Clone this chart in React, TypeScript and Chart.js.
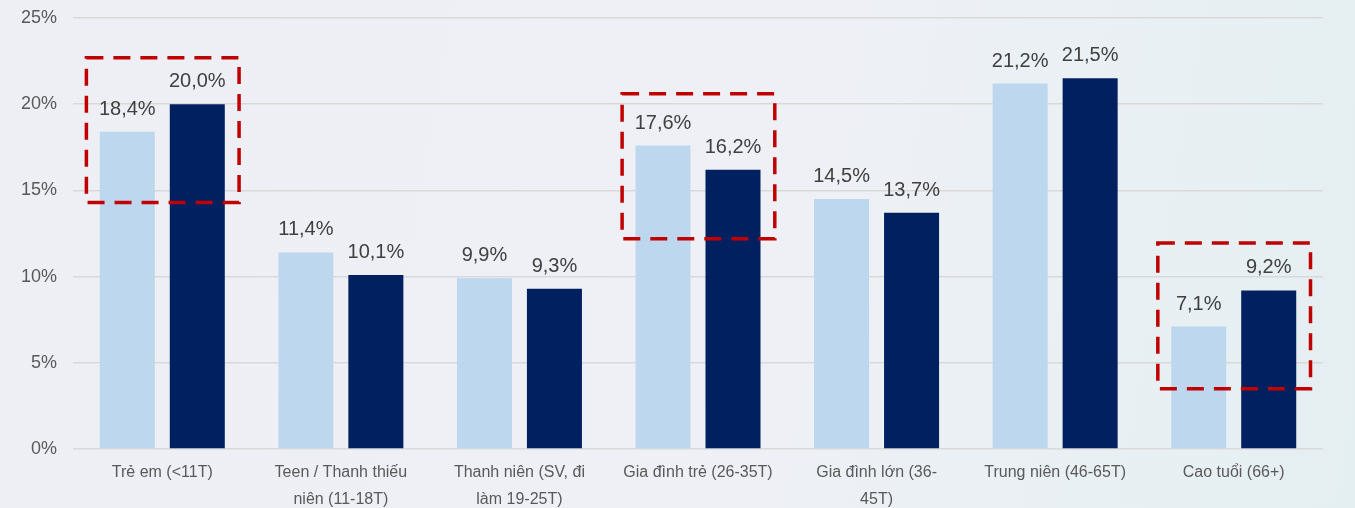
import React, { useEffect, useRef } from "react";
import { Chart, registerables } from "chart.js";

Chart.register(...registerables);

const categories: string[][] = [
  ["Trẻ em (<11T)"],
  ["Teen / Thanh thiếu", "niên (11-18T)"],
  ["Thanh niên (SV, đi", "làm 19-25T)"],
  ["Gia đình trẻ (26-35T)"],
  ["Gia đình lớn (36-", "45T)"],
  ["Trung niên (46-65T)"],
  ["Cao tuổi (66+)"],
];
const seriesA: number[] = [18.4, 11.4, 9.9, 17.6, 14.5, 21.2, 7.1];
const seriesB: number[] = [20.0, 10.1, 9.3, 16.2, 13.7, 21.5, 9.2];
const yTicks: number[] = [0, 5, 10, 15, 20, 25];

// highlight boxes: category index, top and bottom in % units
const highlightCats: number[] = [0, 3, 6];
const highlightTop: number[] = [22.7, 20.6, 11.95];
const highlightBottom: number[] = [14.3, 12.2, 3.5];

const FONT = "'Liberation Sans', Arial, sans-serif";

const fmt = (v: number) => v.toFixed(1).replace(".", ",") + "%";

const labelPlugin = {
  id: "valueLabels",
  afterDatasetsDraw(chart: any) {
    const ctx = chart.ctx;
    ctx.save();
    ctx.font = `20px ${FONT}`;
    ctx.fillStyle = "#404040";
    ctx.textAlign = "center";
    ctx.textBaseline = "alphabetic";
    chart.data.datasets.forEach((ds: any, di: number) => {
      const meta = chart.getDatasetMeta(di);
      meta.data.forEach((bar: any, i: number) => {
        ctx.fillText(fmt(ds.data[i]), bar.x, bar.y - 17);
      });
    });
    ctx.restore();
  },
};

const boxPlugin = {
  id: "highlightBoxes",
  afterDatasetsDraw(chart: any) {
    const ctx = chart.ctx;
    const x = chart.scales.x;
    const y = chart.scales.y;
    const cw = x.getPixelForValue(1) - x.getPixelForValue(0);
    ctx.save();
    ctx.strokeStyle = "#c00000";
    ctx.lineWidth = 3.5;
    ctx.setLineDash([17, 10]);
    highlightCats.forEach((c, k) => {
      const cx = x.getPixelForValue(c);
      const left = cx - cw * 0.425;
      const right = cx + cw * 0.43;
      const top = y.getPixelForValue(highlightTop[k]);
      const bottom = y.getPixelForValue(highlightBottom[k]);
      ctx.strokeRect(left, top, right - left, bottom - top);
    });
    ctx.restore();
  },
};

export default function App() {
  const ref = useRef<HTMLCanvasElement | null>(null);

  useEffect(() => {
    document.body.style.margin = "0";
    if (!ref.current) return;
    const chart = new Chart(ref.current, {
      type: "bar",
      data: {
        labels: categories as any,
        datasets: [
          {
            label: "A",
            data: seriesA,
            backgroundColor: "#bdd7ee",
            categoryPercentage: 0.784,
            barPercentage: 0.786,
          },
          {
            label: "B",
            data: seriesB,
            backgroundColor: "#002060",
            categoryPercentage: 0.784,
            barPercentage: 0.786,
          },
        ],
      },
      options: {
        responsive: false,
        animation: false,
        maintainAspectRatio: false,
        layout: { padding: { top: 18, right: 32, left: 0, bottom: 0 } },
        plugins: {
          legend: { display: false },
          tooltip: { enabled: false },
        },
        scales: {
          x: {
            grid: { display: false, drawTicks: false },
            border: { display: false },
            ticks: {
              color: "#595959",
              font: { family: FONT, size: 16, lineHeight: 1.7 },
              padding: 10,
              maxRotation: 0,
              autoSkip: false,
            },
            afterFit: (s: any) => {
              s.height = 59;
              s.paddingLeft = 0;
              s.paddingRight = 0;
            },
          },
          y: {
            min: 0,
            max: 25,
            afterBuildTicks: (s: any) => {
              s.ticks = yTicks.map((v) => ({ value: v }));
            },
            grid: { color: "#d9d9d9", lineWidth: 1.5, drawTicks: false },
            border: { display: false },
            ticks: {
              color: "#595959",
              font: { family: FONT, size: 18 },
              padding: 16,
              callback: (v: any) => v + "%",
            },
            afterFit: (s: any) => {
              s.width = 73;
              s.paddingTop = 0;
              s.paddingBottom = 0;
            },
          },
        },
      },
      plugins: [labelPlugin, boxPlugin],
    });
    return () => chart.destroy();
  }, []);

  return (
    <div
      style={{
        position: "fixed",
        left: 0,
        top: 0,
        width: 1355,
        height: 508,
        background:
          "linear-gradient(100deg, #eeeff5 0%, #eff0f6 55%, #e9f0f3 80%, #e4eff1 100%)",
      }}
    >
      <canvas ref={ref} width={1355} height={508} style={{ display: "block" }} />
    </div>
  );
}
